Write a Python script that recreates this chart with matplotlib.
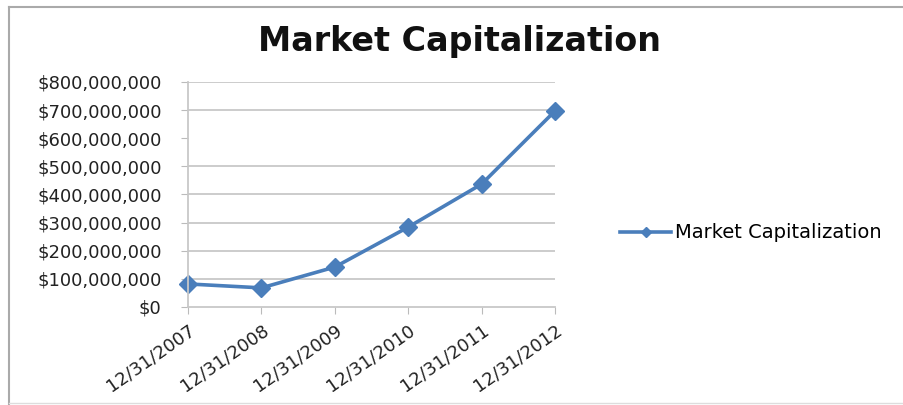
import matplotlib.pyplot as plt
from matplotlib.lines import Line2D
from matplotlib.ticker import FuncFormatter

dates = ['12/31/2007', '12/31/2008', '12/31/2009', '12/31/2010', '12/31/2011', '12/31/2012']
market_cap = [82e6, 68e6, 142e6, 284e6, 437e6, 697e6]
y_ticks = [0, 100e6, 200e6, 300e6, 400e6, 500e6, 600e6, 700e6, 800e6]
grid_levels = [100e6, 200e6, 300e6, 400e6, 500e6, 700e6, 800e6]  # 600M line not visible in source

plt.rcParams['font.family'] = ['DejaVu Sans']

fig = plt.figure(figsize=(9.04, 4.05), dpi=100)
ax = fig.add_axes([188 / 904, 98 / 405, 367 / 904, 225 / 405])

x = list(range(len(dates)))
line, = ax.plot(x, market_cap, color='#4A7EBB', lw=2.6, marker='D', ms=9,
                markeredgecolor='#4A7EBB', label='Market Capitalization', clip_on=False)

ax.set_xlim(0, len(dates) - 1)
ax.set_ylim(0, 800e6)
ax.set_xticks(x)
ax.set_xticklabels(dates, rotation=35, ha='right', rotation_mode='anchor', fontsize=13, color='#222222')
ax.set_yticks(y_ticks)
ax.yaxis.set_major_formatter(FuncFormatter(lambda v, p: '${:,.0f}'.format(v)))
ax.tick_params(axis='y', length=5, color='#bbbbbb', labelsize=13, labelcolor='#222222', pad=14)
ax.tick_params(axis='x', length=5, color='#bbbbbb', pad=5)

for v in grid_levels:
    ax.axhline(v, color='#c8c8c8', lw=1.3, zorder=0)

for s in ['top', 'right']:
    ax.spines[s].set_visible(False)
ax.spines['left'].set_color('#c8c8c8')
ax.spines['bottom'].set_color('#c8c8c8')
ax.spines['left'].set_linewidth(1.3)
ax.spines['bottom'].set_linewidth(1.3)

fig.text(460 / 904, 1 - 42 / 405, 'Market Capitalization', ha='center', va='center',
         fontsize=24, fontweight='bold', color='#111111')

fig.legend(handles=[line], loc='center left', bbox_to_anchor=(603 / 904, 1 - 233 / 405),
           frameon=False, fontsize=14, handlelength=2.6, handletextpad=0.2, markerscale=0.6)

# outer chart border
fig.add_artist(Line2D([9 / 904, 9 / 904], [1 - 404 / 405, 1 - 7 / 405], color='#aaaaaa', lw=1.5))
fig.add_artist(Line2D([9 / 904, 1], [1 - 7 / 405, 1 - 7 / 405], color='#aaaaaa', lw=1.5))
fig.add_artist(Line2D([9 / 904, 1], [1 - 403 / 405, 1 - 403 / 405], color='#dddddd', lw=1))

fig.savefig('out.png', dpi=100)
